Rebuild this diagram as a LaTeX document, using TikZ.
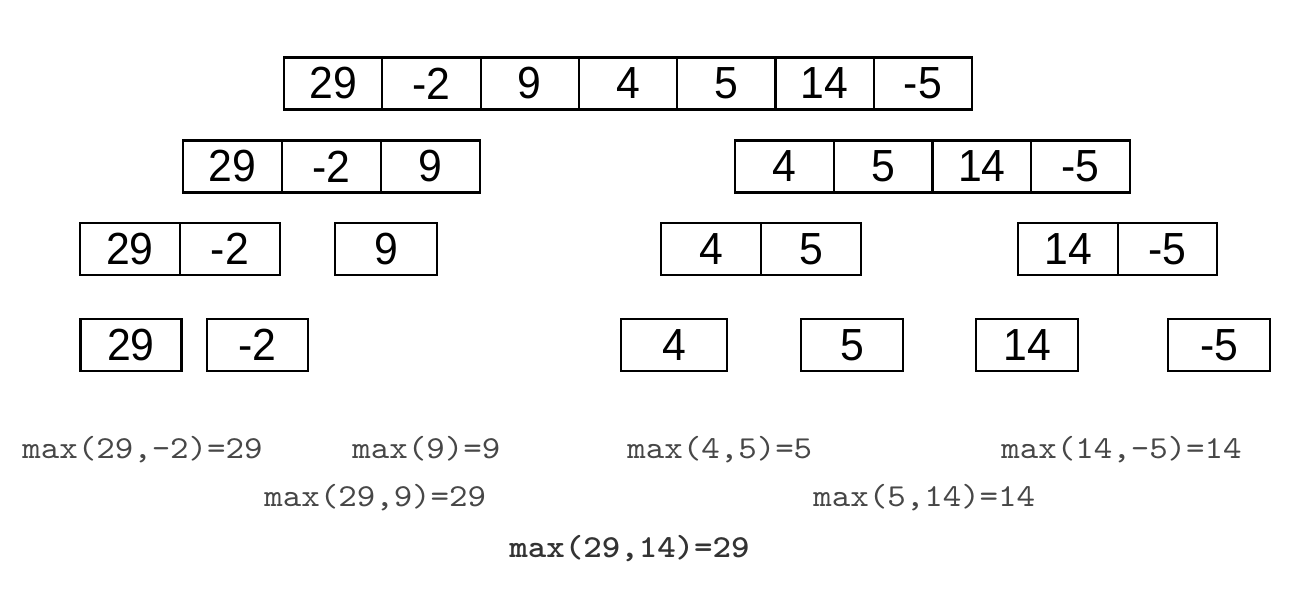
\documentclass[tikz,border=0pt]{standalone}
\usepackage{fontspec}
\setmainfont{Liberation Sans}
\setmonofont{lmmono10-regular.otf}[FakeStretch=1.10, BoldFont=lmmonolt10-bold.otf]
\newfontfamily\numfont[FakeStretch=0.95]{Liberation Sans}
\usepackage{tikz}
\usetikzlibrary{calc,positioning}

\begin{document}
\begin{tikzpicture}[x=0.5pt, y=-0.5pt]
\tikzstyle{cell}=[rectangle, draw, line width=1.1pt, inner sep=0pt,
                  minimum height=26pt, font = \numfont\fontsize{22.5}{22.5}\selectfont]
\tikzstyle{res}=[anchor=base west, inner sep=0pt, text=black!72,
                 font = \fontsize{16}{16}\selectfont\ttfamily]
\useasboundingbox (0,0) rectangle (1293,590);
% level 0
\foreach \v [count=\i] in {29,-2,9,4,5,14,-5}{\node[cell, minimum width=49.15pt] (top\i) at ({284+98.3*(\i-0.5)},83.5) {\v};}
% level 1
\foreach \v [count=\i] in {29,-2,9}{\node[cell, minimum width=49.5pt] (L\i) at ({183+99*(\i-0.5)},166.5) {\v};}
\foreach \v [count=\i] in {4,5,14,-5}{\node[cell, minimum width=49.4pt] (R\i) at ({735+98.75*(\i-0.5)},166.5) {\v};}
% level 2
\foreach \v/\x [count=\i] in {29/130,-2/230}{\node[cell, minimum width=50pt] (LL\i) at (\x,249) {\v};}
\node[cell, minimum width=51pt] (LR1) at (386,249) {9};
\foreach \v/\x [count=\i] in {4/711,5/811}{\node[cell, minimum width=50pt] (RL\i) at (\x,249) {\v};}
\foreach \v/\x [count=\i] in {14/1068,-5/1167.5}{\node[cell, minimum width=49.75pt] (RR\i) at (\x,249) {\v};}
% level 3
\foreach \n/\v/\x/\w in {a/29/131/50.5, b/-2/257.5/50.5, c/4/674/53, d/5/852/51, e/14/1027/51, f/-5/1219/51}{\node[cell, minimum width=\w pt] (leaf\n) at (\x,345) {\v};}
% results
\node[res] (m1) at (22,458) {max(29,-2)=29};
\node[res] (m2) at (352,458) {max(9)=9};
\node[res] (m3) at (627,458) {max(4,5)=5};
\node[res] (m4) at (1001,458) {max(14,-5)=14};
\node[res] (m5) at (264,506) {max(29,9)=29};
\node[res] (m6) at (813,506) {max(5,14)=14};
\node[res, text=black!80, font=\fontsize{16}{16}\selectfont\ttfamily\bfseries] (m7) at (509,557) {max(29,14)=29};
\end{tikzpicture}
\end{document}
